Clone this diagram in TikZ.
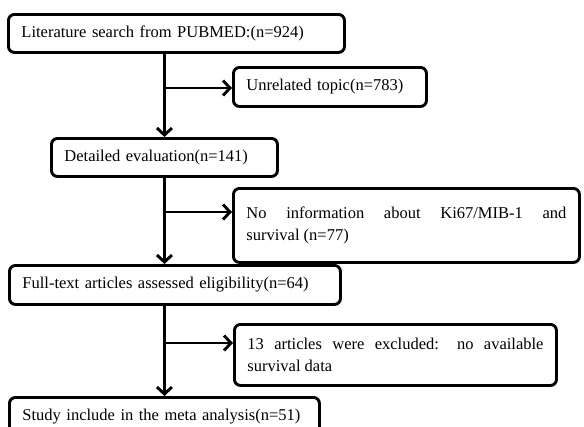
\documentclass[tikz,border=0pt]{standalone}
\usepackage{fontspec}
\setmainfont{Liberation Serif}
\usetikzlibrary{arrows.meta}
\tikzset{
  box/.style={draw, line width=2.9pt, rounded corners=6pt, anchor=north west,
    inner xsep=13pt, inner ysep=0pt, font=\fontsize{16.5}{22}\selectfont},
  arr/.style={line width=2.9pt, -{Straight Barb[length=7pt,width=15pt]}},
  link/.style={line width=2.9pt}
}
\begin{document}
\begin{tikzpicture}[x=1pt,y=-1pt]
                \useasboundingbox (0,0) rectangle (584,426);
                \node [box, minimum height=38pt, text width=310pt, align=left] (lit) at (7,13) {Literature search from PUBMED:(n=924)};
                \node [box, minimum height=39pt, text width=167pt, align=left] (unrel) at (232,66) {Unrelated topic(n=783)};
                \node [box, minimum height=38pt, text width=200pt, align=left] (det) at (50,137) {Detailed evaluation(n=141)};
                \node [box, minimum height=74pt, text width=320pt, align=justify] (info) at (232,187) {No information about Ki67/MIB-1 and\linebreak survival (n=77)};
                \node [box, minimum height=39pt, text width=305pt, align=left] (full) at (8,264) {Full-text articles assessed eligibility(n=64)};
                \node [box, minimum height=61pt, text width=296pt, align=justify] (excl) at (233,323) {13 articles were excluded: no available\linebreak survival data};
                \node [box, minimum height=38pt, text width=284pt, align=left] (incl) at (8,396) {Study include in the meta analysis(n=51)};
                \coordinate (j1) at (163,88) ;
                \coordinate (j2) at (163,212) ;
                \coordinate (j3) at (163,343) ;
                \draw [arr] (det.north |- lit.south) -- (det.north) ;
                \draw [arr] (j1) -- (j1 -| unrel.west) ;
                \draw [arr] (det.south) -- (det.south |- full.north) ;
                \draw [arr] (j2) -- (j2 -| info.west) ;
                \draw [arr] (incl.north |- full.south) -- (incl.north) ;
                \draw [arr] (j3) -- (j3 -| excl.west) ;
            \end{tikzpicture}
\end{document}
